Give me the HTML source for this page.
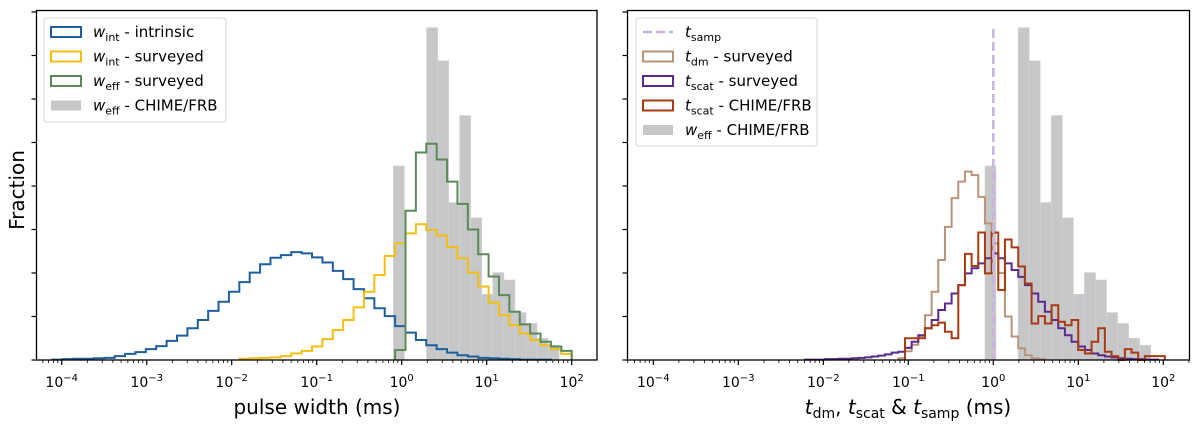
<!DOCTYPE html>
<html><head><meta charset="utf-8">
<style>
html,body{margin:0;padding:0;background:#fff;}
svg{display:block;font-family:"DejaVu Sans","Liberation Sans",sans-serif;}
</style></head>
<body>
<svg id="chart" width="1200" height="424" viewBox="0 0 1200 424" xmlns="http://www.w3.org/2000/svg"></svg>
<script>
// ---------- data ----------
const grayStart = -0.098, grayWidth = 0.13;
const grayChime = [0.0446,0,0,0.0764,0.0688,0.0362,0.0562,0.0327,0.0151,0.0201,0.0184,0.0109,0.0084,0.005,0.0034];

const leftStart = -4.11, leftWidth = 0.1222;
const wIntIntrinsic = [0.0001,0.0002,0.0003,0.0003,0.0004,0.0005,0.0009,0.0014,0.0018,0.0025,0.0032,0.0044,0.0056,0.0073,0.0092,0.0113,0.0134,0.0157,0.0179,0.0201,0.0220,0.0235,0.0241,0.0248,0.0245,0.0236,0.0224,0.0205,0.0186,0.0163,0.0142,0.0119,0.0101,0.0078,0.0063,0.0046,0.0034,0.0025,0.0017,0.0011,0.0008,0.0005,0.0004,0.0003,0.0002,0.0001,0.0001,0.0001,0,0];
const wIntSurveyed = [0,0,0,0,0,0,0,0,0,0,0,0,0,0,0,0,0,0,0.0003,0.0004,0.0005,0.0006,0.0009,0.0015,0.0021,0.0031,0.0048,0.0069,0.0092,0.0121,0.0157,0.0195,0.0239,0.0268,0.0291,0.0312,0.0299,0.0286,0.0260,0.0234,0.0201,0.0169,0.0132,0.0103,0.0080,0.0061,0.0046,0.0034,0.0025,0.0014];
const wEffSurveyed = [0,0,0,0,0,0,0,0,0,0,0,0,0,0,0,0,0,0,0,0,0,0,0,0,0,0,0,0,0,0,0,0,0,0.0023,0.0343,0.0477,0.0497,0.0461,0.0410,0.0359,0.0300,0.0243,0.0192,0.0149,0.0111,0.0082,0.0061,0.0042,0.0031,0.0021];

const rightStart = -2.372, rightWidth = 0.0784;
const tDmSurveyed = [0,0,0,0,0,0,0,0,0,0,0,0,0,0,0,0,0.0004,0.0020,0.0035,0.0055,0.0103,0.0157,0.0230,0.0306,0.0372,0.0410,0.0433,0.0425,0.0375,0.0314,0.0268,0.0200,0.0100,0.0054,0.0027,0.0011,0.0004,0.0002,0,0,0,0,0,0,0,0,0,0,0,0,0,0,0,0,0,0];
const tScatSurveyed = [0,0,0.0001,0.0001,0.0001,0.0002,0.0002,0.0003,0.0003,0.0004,0.0005,0.0006,0.0008,0.0010,0.0013,0.0017,0.0019,0.0028,0.0042,0.0057,0.0073,0.0092,0.0115,0.0130,0.0153,0.0172,0.0199,0.0211,0.0222,0.0234,0.0245,0.0234,0.0222,0.0207,0.0191,0.0172,0.0153,0.0134,0.0111,0.0092,0.0073,0.0057,0.0042,0.0031,0.0023,0.0015,0.0011,0.0008,0.0006,0.0004,0.0003,0.0002,0.0002,0.0001,0.0001,0];
const tScatChime = [0,0,0,0,0,0,0,0,0,0,0,0,0,0,0,0,0,0.005,0.005,0.005,0.0073,0.008,0.0086,0.0065,0.005,0.0172,0.0244,0.0216,0.0293,0.0199,0.0293,0.0161,0.0277,0.0259,0.0215,0.0176,0.0084,0.0101,0.0084,0.0126,0.0088,0.008,0.0092,0.0023,0.0015,0.0042,0.0073,0.0019,0.0009,0,0.0025,0.0017,0,0.0009,0.0009,0.0009];
const tSamp = [1.0];
const xTickExp = [-4,-3,-2,-1,0,1,2];
const yTicks = [0,0.01,0.02,0.03,0.04,0.05,0.06,0.07,0.08];

// ---------- helpers ----------
const NS = "http://www.w3.org/2000/svg";
const svg = document.getElementById('chart');
function mk(tag, attrs, parent){ const e=document.createElementNS(NS,tag); for(const k in attrs) e.setAttribute(k,attrs[k]); (parent||svg).appendChild(e); return e; }

const panels = [
  {name:'left', x0:36.5, x1:597, zero:401.7},
  {name:'right', x0:627.5, x1:1189.5, zero:993.3}
];
const Y0 = 360, Y1 = 10.5, PXD = 85, PYU = 4350;
function yS(v){ return Y0 - v*PYU; }
function xS(p, lg){ return p.zero + lg*PXD; }

function bars(p, g, start, w, vals, name){
  vals.forEach((v,i)=>{
    if(v<=0) return;
    const xa = xS(p,start+i*w), xb = xS(p,start+(i+1)*w);
    const r = mk('rect',{x:xa,y:yS(v),width:xb-xa,height:Y0-yS(v),fill:'#c6c7c9',stroke:'#d2d3d5','stroke-width':0.6},g);
    
    
  });
}
function stepHist(p, g, start, w, vals, color, name){
  let first=-1,last=-1;
  vals.forEach((v,i)=>{ if(v>0){ if(first<0) first=i; last=i; } });
  if(first<0) return;
  let d = 'M'+xS(p,start+first*w)+','+Y0;
  for(let i=first;i<=last;i++){
    d += ' L'+xS(p,start+i*w)+','+yS(vals[i])+' L'+xS(p,start+(i+1)*w)+','+yS(vals[i]);
  }
  d += ' L'+xS(p,start+(last+1)*w)+','+Y0;
  const pa = mk('path',{d:d,fill:'none',stroke:color,'stroke-width':2,'stroke-linejoin':'miter'},g);
  
  
}

function axes(p){
  const g = mk('g',{});
  
  
  yTicks.forEach(t=>{
    const l = mk('line',{x1:p.x0-5,x2:p.x0,y1:yS(t),y2:yS(t),stroke:'#000','stroke-width':1.2},g);
    
    
  });
  xTickExp.forEach(e=>{
    const x = xS(p,e);
    const l = mk('line',{x1:x,x2:x,y1:Y0,y2:Y0+5,stroke:'#000','stroke-width':1.2},g);
    
    
    const t = mk('text',{x:x,y:Y0+27,'text-anchor':'middle','font-size':14,fill:'#000'},g);
    
    
    t.textContent='10';
    const s = mk('tspan',{dy:-6,'font-size':10},t);
    s.textContent = e<0 ? '\u2212'+(-e) : String(e);
  });
  for(let e=-5;e<=2;e++){
    for(let m=2;m<=9;m++){
      const lg = e+Math.log10(m);
      const x = xS(p,lg);
      if(x<p.x0||x>p.x1) continue;
      mk('line',{x1:x,x2:x,y1:Y0,y2:Y0+3,stroke:'#000','stroke-width':0.8},g);
    }
  }
  const fr = mk('rect',{x:p.x0,y:Y1,width:p.x1-p.x0,height:Y0-Y1,fill:'none',stroke:'#000','stroke-width':1.3},g);
  
  
}

const L = panels[0], R = panels[1];
const gl = mk('g',{});


bars(L, gl, grayStart, grayWidth, grayChime, 'weff-chime');
stepHist(L, gl, leftStart, leftWidth, wIntIntrinsic, '#1f5f9c', 'wint-intrinsic-step');
stepHist(L, gl, leftStart, leftWidth, wIntSurveyed, '#f4bf0f', 'wint-surveyed-step');
stepHist(L, gl, leftStart, leftWidth, wEffSurveyed, '#5b8a58', 'weff-surveyed-step');
axes(L);

const gr = mk('g',{});


bars(R, gr, grayStart, grayWidth, grayChime, 'weff-chime-right');
stepHist(R, gr, rightStart, rightWidth, tDmSurveyed, '#b99479', 'tdm-surveyed-step');
stepHist(R, gr, rightStart, rightWidth, tScatSurveyed, '#5c2a8c', 'tscat-surveyed-step');
stepHist(R, gr, rightStart, rightWidth, tScatChime, '#a83b12', 'tscat-chime-step');
tSamp.forEach(v=>{
  const x = xS(R, Math.log10(v));
  const l = mk('line',{x1:x,x2:x,y1:29,y2:Y0,stroke:'#c9b2e0','stroke-width':2.5,'stroke-dasharray':'9,4'},gr);
  
  
});
axes(R);
</script>

<script>
(function(){
const svg = document.getElementById('chart');
const NS = "http://www.w3.org/2000/svg";
function mk(tag, attrs, parent){ const e=document.createElementNS(NS,tag); for(const k in attrs) e.setAttribute(k,attrs[k]); (parent||svg).appendChild(e); return e; }
const yl = mk('text',{x:0,y:0,transform:'translate(24,190) rotate(-90)','text-anchor':'middle','font-size':20,fill:'#000'});


yl.textContent='Fraction';
const xl = mk('text',{x:317,y:414,'text-anchor':'middle','font-size':20,fill:'#000'});


xl.textContent='pulse width (ms)';
const xr = mk('text',{x:908,y:414,'text-anchor':'middle','font-size':20,fill:'#000'});


xr.innerHTML='<tspan font-style="italic">t</tspan><tspan font-size="14" dy="4">dm</tspan><tspan dy="-4">, </tspan><tspan font-style="italic">t</tspan><tspan font-size="14" dy="4">scat</tspan><tspan dy="-4"> &amp; </tspan><tspan font-style="italic">t</tspan><tspan font-size="14" dy="4">samp</tspan><tspan dy="-4"> (ms)</tspan>';

function legend(x,y,w,h,entries,name){
  const g = mk('g',{});
  
  
  mk('rect',{x:x,y:y,width:w,height:h,rx:3,fill:'#fff','fill-opacity':0.85,stroke:'#d6d6d6','stroke-width':1},g);
  entries.forEach((en,i)=>{
    const cy = y+14+i*24.5;
    const eg = mk('g',{},g);
    
    
    if(en.type==='dash') mk('line',{x1:x+7,x2:x+37,y1:cy,y2:cy,stroke:en.c,'stroke-width':2.5,'stroke-dasharray':'9,4'},eg);
    else if(en.type==='fill') mk('rect',{x:x+7,y:cy-5,width:30,height:10,fill:'#c6c7c9'},eg);
    else mk('rect',{x:x+7,y:cy-5,width:30,height:10,fill:'none',stroke:en.c,'stroke-width':2},eg);
    const t = mk('text',{x:x+49,y:cy+5,'font-size':15,fill:'#000'},eg);
    t.innerHTML='<tspan font-style="italic">'+en.v+'</tspan><tspan font-size="11" dy="4">'+en.s+'</tspan><tspan dy="-4">'+en.t+'</tspan>';
  });
}
legend(44,18,182,104,[
  {c:'#1f5f9c',v:'w',s:'int',t:' - intrinsic'},
  {c:'#f4bf0f',v:'w',s:'int',t:' - surveyed'},
  {c:'#5b8a58',v:'w',s:'eff',t:' - surveyed'},
  {type:'fill',v:'w',s:'eff',t:' - CHIME/FRB'}],'left-legend');
legend(636,18,181,128,[
  {type:'dash',c:'#c9b2e0',v:'t',s:'samp',t:''},
  {c:'#b99479',v:'t',s:'dm',t:' - surveyed'},
  {c:'#5c2a8c',v:'t',s:'scat',t:' - surveyed'},
  {c:'#a83b12',v:'t',s:'scat',t:' - CHIME/FRB'},
  {type:'fill',v:'w',s:'eff',t:' - CHIME/FRB'}],'right-legend');
})();
</script>
</body></html>
